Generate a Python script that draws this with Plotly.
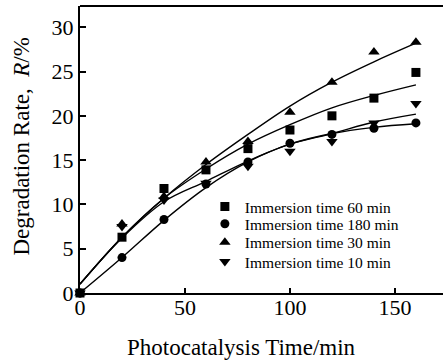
import plotly.graph_objects as go

# ---- data ----
time_min = [0, 20, 40, 60, 80, 100, 120, 140, 160]

r_60 = [0, 6.3, 11.8, 13.9, 16.3, 18.4, 20.0, 22.0, 24.9]
r_180 = [0, 4.0, 8.3, 12.3, 14.8, 16.9, 17.9, 18.6, 19.2]
r_30 = [0, 7.8, 10.9, 14.8, 17.1, 20.4, 23.8, 27.2, 28.3]
r_10 = [0, 7.5, 10.5, 12.4, 14.3, 16.0, 17.1, 19.2, 21.4]

# fitted curves (at the same times)
fit_60 = [1.0, 6.3, 10.7, 14.0, 16.8, 19.0, 20.9, 22.3, 23.5]
fit_180 = [0.0, 4.0, 8.2, 11.9, 14.8, 16.8, 18.0, 18.7, 19.1]
fit_30 = [1.0, 6.3, 10.7, 14.5, 17.9, 21.1, 23.8, 26.1, 28.2]
fit_10 = [1.0, 6.2, 10.3, 12.6, 14.9, 16.8, 18.0, 19.3, 20.2]

series = [
    ("Immersion time 60 min", r_60, fit_60, "square", 9),
    ("Immersion time 180 min", r_180, fit_180, "circle", 9),
    ("Immersion time 30 min", r_30, fit_30, "triangle-up", 10),
    ("Immersion time 10 min", r_10, fit_10, "triangle-down", 10),
]

x_ticks = [0, 50, 100, 150]
y_ticks = [0, 5, 10, 15, 20, 25, 30]

FONT = "Liberation Serif"
legend_names = ["legend", "legend2", "legend3", "legend4"]
legend_rows_y = [0.30, 0.24, 0.175, 0.108]

fig = go.Figure()
for name, vals, fit, sym, sz in series:
    fig.add_trace(go.Scatter(
        x=time_min, y=fit, mode="lines", line=dict(color="black", width=1.4, shape="spline"),
        showlegend=False, hoverinfo="skip"))
for i, (name, vals, fit, sym, sz) in enumerate(series):
    fig.add_trace(go.Scatter(
        x=time_min, y=vals, mode="markers", name=name, legend=legend_names[i],
        marker=dict(symbol=sym, size=sz, color="black"), cliponaxis=False))

legend_common = dict(xanchor="left", yanchor="middle",
                     font=dict(family=FONT, size=15.5, color="black"),
                     bgcolor="rgba(0,0,0,0)", borderwidth=0, itemwidth=30)
layout_legends = {}
for ln, ly in zip(legend_names, legend_rows_y):
    layout_legends[ln] = dict(x=0.344, y=ly, **legend_common)

fig.update_layout(
    width=443, height=361,
    margin=dict(l=80, r=0, t=6, b=68),
    paper_bgcolor="white", plot_bgcolor="white",
    font=dict(family=FONT, color="black", size=22),
    showlegend=True,
    xaxis=dict(range=[0, 172.9], tickvals=x_ticks, ticks="inside", ticklen=5,
               tickwidth=1.5, tickcolor="black", showline=True, linecolor="black",
               linewidth=2, showgrid=False, zeroline=False, ticklabelstandoff=-6,
               tickfont=dict(family=FONT, size=22, color="black")),
    yaxis=dict(range=[0, 32.4], tickvals=y_ticks, ticks="inside", ticklen=6,
               tickwidth=1.5, tickcolor="black", showline=True, linecolor="black",
               linewidth=2, showgrid=False, zeroline=False,
               tickfont=dict(family=FONT, size=22, color="black")),
    shapes=[dict(type="line", xref="paper", yref="paper", x0=0, x1=1, y0=1, y1=1,
                 line=dict(color="black", width=2))],
    annotations=[
        dict(text="Photocatalysis Time/min", xref="paper", yref="paper",
             x=0.446, y=-0.189, xanchor="center", yanchor="middle", showarrow=False,
             font=dict(family=FONT, size=23, color="black")),
        dict(text="Degradation Rate,  <i>R</i>/%", xref="paper", yref="paper",
             x=-0.16, y=0.51, xanchor="center", yanchor="middle", showarrow=False,
             textangle=-90, font=dict(family=FONT, size=23, color="black")),
    ],
    **layout_legends,
)

fig.write_html("out.html", config={"displayModeBar": False},
               post_script="document.body.style.margin='0';document.body.style.padding='0';")
